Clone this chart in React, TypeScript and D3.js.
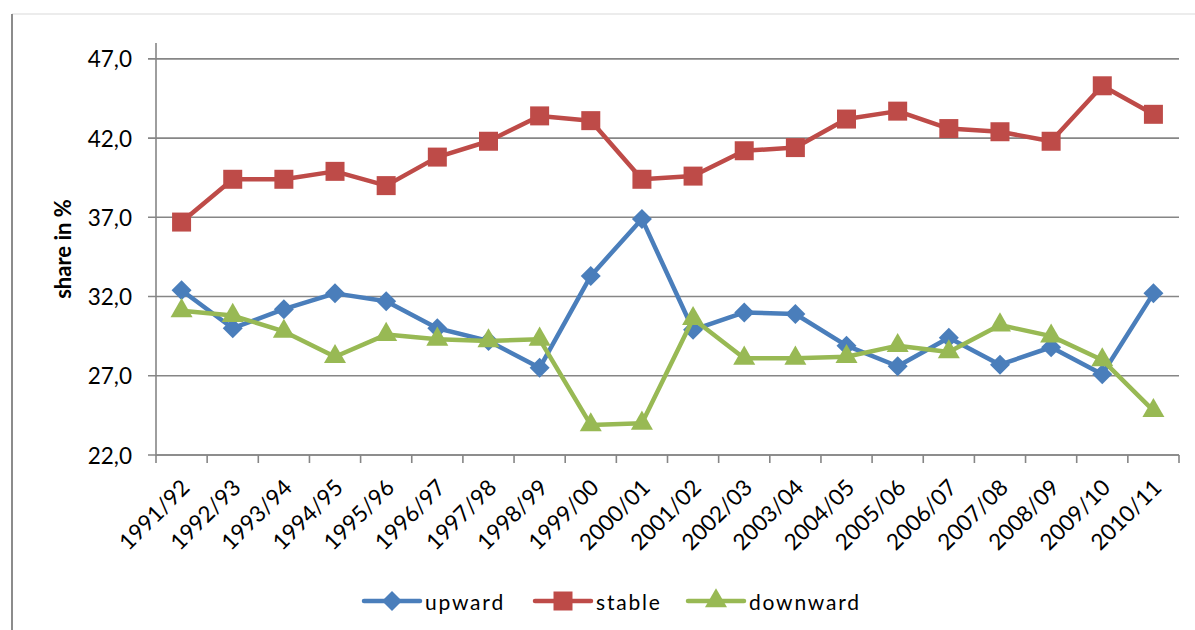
import React from 'react';
import * as d3 from 'd3';

const categories = ['1991/92','1992/93','1993/94','1994/95','1995/96','1996/97','1997/98','1998/99','1999/00','2000/01','2001/02','2002/03','2003/04','2004/05','2005/06','2006/07','2007/08','2008/09','2009/10','2010/11'];
const upward = [32.4, 30.0, 31.2, 32.2, 31.7, 30.0, 29.2, 27.5, 33.3, 36.9, 29.9, 31.0, 30.9, 28.9, 27.6, 29.4, 27.7, 28.8, 27.1, 32.2];
const stable = [36.7, 39.4, 39.4, 39.9, 39.0, 40.8, 41.8, 43.4, 43.1, 39.4, 39.6, 41.2, 41.4, 43.2, 43.7, 42.6, 42.4, 41.8, 45.3, 43.5];
const downward = [31.1, 30.8, 29.8, 28.2, 29.6, 29.3, 29.2, 29.3, 23.9, 24.0, 30.6, 28.1, 28.1, 28.2, 28.9, 28.5, 30.2, 29.5, 28.0, 24.8];
const yTicks = [22, 27, 32, 37, 42, 47];
const seriesNames = ['upward', 'stable', 'downward'];

const W = 1195, H = 630;
const left = 156, right = 1179, top = 43, bottom = 455;
const FONT = "Lato, 'Open Sans', sans-serif";
const GRID = '#868686';

const colors = { upward: '#4A7EBB', stable: '#BE4B48', downward: '#98B954' };

export default function App() {
  const x = d3.scaleBand<string>().domain(categories).range([left, right]).padding(0);
  const y = d3.scaleLinear().domain([22, 48]).range([bottom, top]);
  const cx = (c: string) => (x(c) as number) + x.bandwidth() / 2;
  const line = d3.line<number>().x((_, i) => cx(categories[i])).y(v => y(v));

  const diamond = d3.symbol().type(d3.symbolSquare).size(200)() as string;
  const square = d3.symbol().type(d3.symbolSquare).size(361)() as string;
  const triangle = d3.symbol().type(d3.symbolTriangle).size(210)() as string;

  const series = [
    { name: 'upward', data: upward, color: colors.upward, path: diamond, rot: 45 },
    { name: 'stable', data: stable, color: colors.stable, path: square, rot: 0 },
    { name: 'downward', data: downward, color: colors.downward, path: triangle, rot: 0 },
  ];

  const legendX = [364, 535, 688];
  const legendY = 601;

  const boundaries = d3.range(categories.length + 1).map(i => left + i * x.bandwidth());

  return (
    <svg width={W} height={H} style={{ position: 'absolute', left: 0, top: 0, background: '#fff' }} fontFamily={FONT}>
      <rect x={0} y={0} width={W} height={H} fill="#fff" />
      {/* outer chart border */}
      <line x1={12} y1={14} x2={W} y2={14} stroke="#e6e6e6" strokeWidth={1.5} />
      <line x1={12} y1={14} x2={12} y2={H} stroke="#8c8c8c" strokeWidth={2} />

      {/* gridlines */}
      {yTicks.map(t => (
        <line key={t} x1={left - 8} x2={right} y1={y(t)} y2={y(t)} stroke={GRID} strokeWidth={1.6} />
      ))}
      {/* y axis */}
      <line x1={left} x2={left} y1={top} y2={bottom + 1} stroke={GRID} strokeWidth={1.6} />
      {yTicks.map(t => (
        <text key={'l' + t} x={132} y={y(t)} textAnchor="end" dominantBaseline="central" fontSize={22.5} fill="#000">
          {t.toFixed(1).replace('.', ',')}
        </text>
      ))}
      <text transform={`translate(71,${(top + bottom) / 2}) rotate(-90)`} textAnchor="middle" fontSize={22} fontWeight="bold" fill="#000">
        share in %
      </text>

      {/* x axis */}
      <line x1={left} x2={right} y1={bottom} y2={bottom} stroke={GRID} strokeWidth={1.6} />
      {boundaries.map((b, i) => (
        <line key={'t' + i} x1={b} x2={b} y1={bottom} y2={bottom + 8} stroke={GRID} strokeWidth={1.6} />
      ))}
      {categories.map(c => (
        <text key={c} transform={`translate(${cx(c) + 3.5},${bottom + 28}) rotate(-45)`} textAnchor="end" dominantBaseline="central" fontSize={22.5} fill="#000">
          {c}
        </text>
      ))}

      {/* series */}
      {series.map(s => (
        <g key={s.name}>
          <path d={line(s.data) as string} fill="none" stroke={s.color} strokeWidth={4.5} strokeLinejoin="round" />
          {s.data.map((v, i) => (
            <path key={i} d={s.path} fill={s.color} transform={`translate(${cx(categories[i])},${y(v)}) rotate(${s.rot})`} />
          ))}
        </g>
      ))}

      {/* legend */}
      {series.map((s, i) => (
        <g key={'lg' + s.name} transform={`translate(${legendX[i]},${legendY})`}>
          <line x1={0} x2={56} y1={0} y2={0} stroke={s.color} strokeWidth={4.5} strokeLinecap="round" />
          <path d={s.path} fill={s.color} transform={`translate(28,0) rotate(${s.rot})`} />
          <text x={61} y={0} dominantBaseline="central" fontSize={21} letterSpacing={1.8} fill="#000">{seriesNames[i]}</text>
        </g>
      ))}
    </svg>
  );
}
